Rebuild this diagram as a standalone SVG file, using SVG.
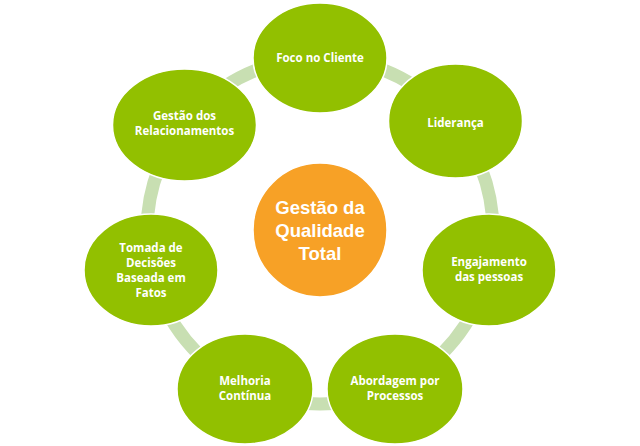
<svg xmlns="http://www.w3.org/2000/svg" width="640" height="446" viewBox="0 0 640 446">
<style>
.n{fill:#92c000;stroke:#ffffff;stroke-width:1.5}
.t{fill:#ffffff;font-family:"Open Sans","Liberation Sans",sans-serif;font-weight:bold;font-size:11.5px;text-anchor:middle}
.c{fill:#f7a126;stroke:#ffffff;stroke-width:1.5}
.ct{fill:#ffffff;font-family:"Liberation Sans","Open Sans",sans-serif;font-weight:bold;font-size:18.5px;text-anchor:middle}
</style>
<rect width="640" height="446" fill="#ffffff"/>
<g id="connectors">
<circle cx="320" cy="231" r="173" fill="none" stroke="#c8dfb2" stroke-width="13"/>
</g>
<g id="center">
<circle class="c" cx="320" cy="230" r="67"/>
<text class="ct" x="320" y="214">Gestão da</text>
<text class="ct" x="320" y="237">Qualidade</text>
<text class="ct" x="320" y="260">Total</text>
</g>
<g id="foco">
<ellipse class="n" cx="320" cy="58" rx="67" ry="55"/>
<text class="t" x="320" y="62">Foco no Cliente</text>
</g>
<g id="lideranca">
<ellipse class="n" cx="455.5" cy="121" rx="67" ry="57"/>
<text class="t" x="455.5" y="127">Liderança</text>
</g>
<g id="engajamento">
<ellipse class="n" cx="489" cy="270" rx="67" ry="56"/>
<text class="t" x="489" y="266">Engajamento</text>
<text class="t" x="489" y="281">das pessoas</text>
</g>
<g id="abordagem">
<ellipse class="n" cx="395" cy="389" rx="68" ry="55"/>
<text class="t" x="395" y="385">Abordagem por</text>
<text class="t" x="395" y="400">Processos</text>
</g>
<g id="melhoria">
<ellipse class="n" cx="245" cy="389" rx="68" ry="55"/>
<text class="t" x="245" y="385">Melhoria</text>
<text class="t" x="245" y="400">Contínua</text>
</g>
<g id="tomada">
<ellipse class="n" cx="151" cy="270" rx="67" ry="56"/>
<text class="t" x="151" y="252">Tomada de</text>
<text class="t" x="151" y="267">Decisões</text>
<text class="t" x="151" y="282">Baseada em</text>
<text class="t" x="151" y="297">Fatos</text>
</g>
<g id="relacionamentos">
<ellipse class="n" cx="184.5" cy="125" rx="72" ry="56"/>
<text class="t" x="184.5" y="120">Gestão dos</text>
<text class="t" x="184.5" y="135">Relacionamentos</text>
</g>
</svg>
